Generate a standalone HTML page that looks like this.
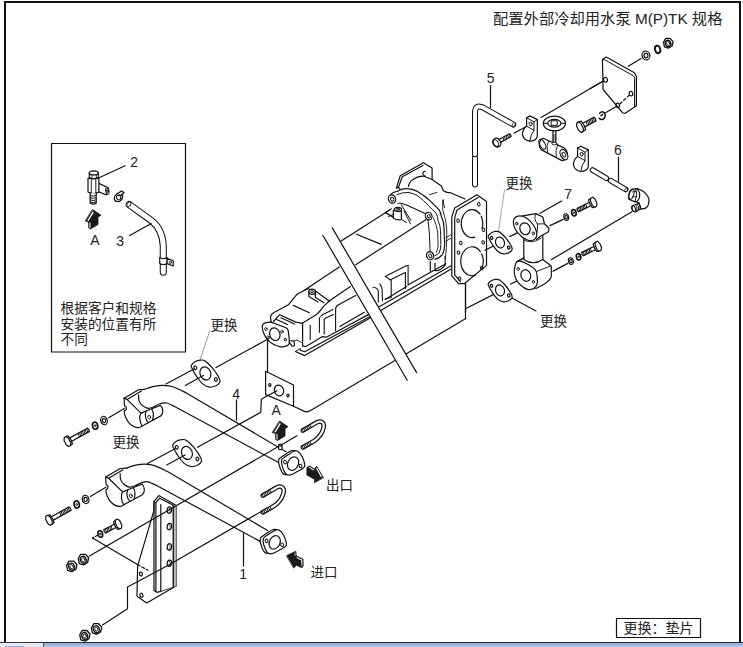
<!DOCTYPE html>
<html lang="zh"><head><meta charset="utf-8"><title>配置外部冷却用水泵 M(P)TK 规格</title>
<style>
html,body{margin:0;padding:0;background:#fff;}
body{width:743px;height:647px;overflow:hidden;position:relative;font-family:"Liberation Sans","Noto Sans CJK SC",sans-serif;}
svg{position:absolute;left:0;top:0;}
svg text{font-family:"Liberation Sans","Noto Sans CJK SC",sans-serif;fill:#222;stroke:none;}
.bar{position:absolute;left:0;top:642px;width:743px;height:5px;background:linear-gradient(#8aaad8,#b6cdeb);border-top:1px solid #2c313a;box-sizing:border-box;}
.bar i{position:absolute;left:0;top:0;width:43px;height:4px;background:#e6eaf2;border-right:1px solid #4a5468;}
.bar b{position:absolute;left:5px;top:3px;width:19px;height:2px;background:#93a9d6;}
</style></head><body>
<svg width="743" height="647" viewBox="0 0 743 647" fill="none" stroke="#111" stroke-width="1.2" stroke-linecap="round" stroke-linejoin="round">
<path d="M5,642 V2 H740 V642" stroke-width="2" stroke-linecap="butt" stroke-linejoin="miter"/>
<text x="493" y="23.5" font-size="15.3" >配置外部冷却用水泵 M(P)TK 规格</text>
<rect x="51.5" y="143.5" width="134" height="208.5" stroke-width="1.2"/>
<text x="60.5" y="313" font-size="13.7" >根据客户和规格</text>
<text x="60.5" y="328.5" font-size="13.7" >安装的位置有所</text>
<text x="60.5" y="344" font-size="13.7" >不同</text>
<rect x="616.5" y="618.5" width="84" height="19" stroke-width="1.2"/>
<text x="623.5" y="633" font-size="14" >更换：垫片</text>
<g transform="" >
<line x1="267.5" y1="340" x2="267.5" y2="371.3" stroke-width="1.2" />
<path d="M265.6,371.3 L293.5,385 L293.5,406.3 L265.6,394.6 Z" fill="#fff" stroke-width="1.2" />
<ellipse cx="279" cy="390.5" rx="4.6" ry="5.4" transform="rotate(-20 279 390.5)" fill="none" stroke-width="1.2"/>
<ellipse cx="269.8" cy="385" rx="1.1" ry="1.4" transform="rotate(0 269.8 385)" fill="none" stroke-width="1.2"/>
<ellipse cx="288" cy="395.6" rx="1.1" ry="1.4" transform="rotate(0 288 395.6)" fill="none" stroke-width="1.2"/>
<path d="M293.5,406.3 L305,411.6 Q308,412.3 311,410.3 L465.8,318.6" fill="none" stroke-width="1.2" />
<line x1="465.5" y1="283.8" x2="465.5" y2="318.6" stroke-width="1.2" />
<path d="M295.4,351.5 L304.7,355.6 L371,317.6" fill="none" stroke-width="1.2" />
<path d="M300.4,350.2 L304.7,351.8 L371,316" fill="none" stroke-width="1.2" />
<path d="M295.4,351.5 L300.4,348.5 L300.4,350.2" fill="none" stroke-width="0.9" />
<line x1="379.1" y1="306.8" x2="451.1" y2="265.8" stroke-width="1.2" />
<line x1="381.2" y1="310.2" x2="451.1" y2="269.1" stroke-width="1.2" />
<path d="M385.2,299.4 L406.7,286.6 M408.7,284.6 L445.8,263.7" fill="none" stroke-width="1.2" />
<path d="M271.1,322.1 C270.3,322.2 267.5,322.3 266.1,322.7 C264.8,323.1 263.6,323.6 263.0,324.3 C262.4,325.0 262.1,325.5 262.2,327.0 C262.3,328.5 262.8,331.1 263.7,333.2 C264.6,335.3 265.8,337.5 267.4,339.4 C269.0,341.2 271.2,343.1 273.5,344.3 C275.8,345.5 278.7,346.6 281.0,346.8 C283.3,347.0 285.7,346.2 287.1,345.6 C288.5,345.0 289.2,343.5 289.6,343.1" fill="#fff" stroke-width="1.2" />
<path d="M289,341.9 L292.1,346.2 Q294,346.5 294.6,345 L293.9,341.2 L290.9,340.6" fill="none" stroke-width="1.2" />
<path d="M271.1,322.1 L285.9,327.7 Q288.4,329 288.4,332 L289.6,343.1" fill="none" stroke-width="1.2" />
<ellipse cx="274.8" cy="334.2" rx="5.1" ry="6.4" transform="rotate(-20 274.8 334.2)" fill="none" stroke-width="1.2"/>
<ellipse cx="265.9" cy="329.1" rx="1.2" ry="1.5" transform="rotate(-20 265.9 329.1)" fill="none" stroke-width="0.9"/>
<ellipse cx="282" cy="331.7" rx="1.2" ry="1.5" transform="rotate(-20 282 331.7)" fill="none" stroke-width="0.9"/>
<ellipse cx="285.3" cy="339.6" rx="1.2" ry="1.5" transform="rotate(-20 285.3 339.6)" fill="none" stroke-width="0.9"/>
<ellipse cx="268" cy="337.5" rx="1.2" ry="1.5" transform="rotate(-20 268 337.5)" fill="none" stroke-width="0.9"/>
<path d="M271.1,322.1 L270.5,316.5 Q271.5,313.8 273.5,312.8 L288.4,304.8 L293.3,298.6 L297,294.3 L303.6,290.8 L339.3,267" fill="none" stroke-width="1.2" />
<path d="M273.5,321.5 L279.7,314.7 L295.8,322.1 L302.6,323.3" fill="none" stroke-width="1.2" />
<line x1="281" y1="317.8" x2="294.6" y2="324" stroke-width="1.2" />
<line x1="276.5" y1="319.5" x2="287.5" y2="324.5" stroke-width="1.2" />
<line x1="293.3" y1="305.4" x2="309.4" y2="312.8" stroke-width="1.2" />
<path d="M302.6,345.9 L302.6,323.1 L316.6,314.5 Q320.5,311 323.1,306.9 L329.2,301.1" fill="none" stroke-width="1.2" />
<path d="M293.9,341.2 L297,340 L302.6,343.1" fill="none" stroke-width="0.9" />
<ellipse cx="312.1" cy="291.7" rx="3.3" ry="2.6" transform="rotate(0 312.1 291.7)" fill="#fff" stroke-width="1.2"/>
<ellipse cx="312.1" cy="291.7" rx="1.4" ry="1.1" transform="rotate(0 312.1 291.7)" fill="none" stroke-width="0.9"/>
<path d="M308.8,292 V296.5 M315.4,292.5 V297.5 M303.6,290.8 L308.8,288.5 M315.4,291 L329.2,301.1 M315.4,297.5 L324,302.7 M308.8,296.5 L318,302" fill="none" stroke-width="1.2" />
<line x1="329.2" y1="301.1" x2="350.4" y2="286.6" stroke-width="1.2" />
<line x1="337.7" y1="305.3" x2="355.6" y2="295.5" stroke-width="1.2" />
<path d="M310.2,325.3 V339.4 M319.4,318.3 V332.3 M324.2,319.4 V334 M322.1,315 L332.9,309.6 M325.3,318.3 L333.4,314.5" fill="none" stroke-width="1.1" />
<path d="M319.4,318.3 Q319.5,316.3 322.1,315 M324.2,319.4 Q324.3,318.6 325.3,318.3" fill="none" stroke-width="1.0" />
<path d="M337.7,305.3 Q335.2,307 335.6,310.5 V330.7" fill="none" stroke-width="1.1" />
<path d="M302.6,345.9 L306,346.6 L322.1,336.7 L326.4,337.2 L335.6,332.3 L369.7,313.9" fill="none" stroke-width="1.2" />
<line x1="339.9" y1="326.4" x2="364.3" y2="312.3" stroke-width="1.2" />
</g>
<line x1="355.6" y1="264.8" x2="427" y2="218.9" stroke-width="1.2" />
<line x1="341.2" y1="241" x2="390.5" y2="209.6" stroke-width="1.2" />
<line x1="356.5" y1="234.2" x2="381.1" y2="244.4" stroke-width="1.2" />
<line x1="386.2" y1="213" x2="393" y2="217.2" stroke-width="1.2" />
<path d="M385.2,276.5 L404.7,266.4 Q407,265.2 408.7,265.8 M389.9,279.9 L405.4,272.5 M391.2,280.6 V296.7 M405.4,272.5 V288.6 M408.1,267.1 V285.3 M385.2,298.7 L391.2,297.5 M385.2,276.5 Q388.5,278 389.9,279.9" fill="none" stroke-width="1.1" />
<path d="M373.1,287.3 Q377.5,287.6 378.3,291 V302.1 M379.8,283.9 Q381.6,286 382,289 L382.5,300.8" fill="none" stroke-width="1.1" />
<path d="M430.3,261.5 V271.2 M435,263.1 V270.5 Q440,271.5 445.1,265.1 V256.3" fill="none" stroke-width="1.2" />
<path d="M396.4,188.1 L400.2,175.7 L423.4,162.7 L432.1,168.1 L432.1,179.5" fill="none" stroke-width="1.2" />
<path d="M398.5,187.1 L402.3,176.8 L422.9,165.4" fill="none" stroke-width="1.2" />
<path d="M396.4,188.1 L398.5,187.1 L400,189.5" fill="none" stroke-width="1.2" />
<path d="M425.2,171.2 Q422.6,171.4 422.8,174 Q423.4,175.6 425,175.2" fill="none" stroke-width="1.1" />
<path d="M408.3,186.5 Q409.5,181.5 413.1,179.5 Q418,176 424,176.2 L432.1,179.5 L441.3,186 L443.4,190.8 Q446.5,192.8 449.9,192.5 L465,199" fill="none" stroke-width="1.2" />
<path d="M429.4,194.6 L436.9,192.5 M443.4,200 Q443.2,204 444.5,207.6" fill="none" stroke-width="0.9" />
<path d="M442.6,200 Q441.5,210 445.4,219.5 Q447,227 446.8,234.8 Q446.8,248 445.4,258.5" fill="none" stroke-width="0.9" />
<path d="M446.1,237.6 L450.9,234.8 M446.1,241 L450.9,238.3" fill="none" stroke-width="0.9" />
<path d="M390.4,194.6 Q393,192 396.9,191.4 Q402,188.3 406.6,188.7 Q412.5,189 417.5,191.4 Q424.5,195.5 430.5,201.1 L439.1,209.8 Q441,212.5 441.3,216.3 Q444,222 444,227.8 L444.7,244.5 Q444.5,250 442.6,254.3 Q439.5,258.2 434.9,259.2" fill="none" stroke-width="1.2" />
<path d="M396.9,194.6 Q403,192 408.8,192.5 Q413.5,193.3 417.5,195.7 Q423.5,200 428.3,205.5 L435.9,213 Q438.2,216.5 438,220.6 Q440.4,225.5 440.5,230.6 L440.9,244.5 Q440.8,249.5 439.1,252.9 Q437.5,255 434.9,255.7" fill="none" stroke-width="1.0" />
<path d="M398,203.3 L401.2,203.3 Q406.5,204.5 412.1,207.6 L426.1,214.1" fill="none" stroke-width="1.1" />
<path d="M433.5,218.1 Q436.5,224.5 437.7,232 L438.1,245.9 Q437.8,249.8 436.3,252.2" fill="none" stroke-width="0.9" />
<path d="M428,220.2 Q429.8,233 430.1,252" fill="none" stroke-width="1.0" />
<ellipse cx="392" cy="199" rx="3.6" ry="4.2" transform="rotate(-20 392 199)" fill="#fff" stroke-width="1.2"/>
<ellipse cx="392.2" cy="199.2" rx="1.6" ry="2.0" transform="rotate(-20 392.2 199.2)" fill="none" stroke-width="1.0"/>
<ellipse cx="428.7" cy="216.1" rx="3.3" ry="3.9" transform="rotate(-20 428.7 216.1)" fill="#fff" stroke-width="1.2"/>
<ellipse cx="428.9" cy="216.3" rx="1.4" ry="1.8" transform="rotate(-20 428.9 216.3)" fill="none" stroke-width="1.0"/>
<ellipse cx="430.1" cy="255.7" rx="3.5" ry="4.1" transform="rotate(-20 430.1 255.7)" fill="#fff" stroke-width="1.2"/>
<ellipse cx="430.3" cy="255.9" rx="1.5" ry="1.9" transform="rotate(-20 430.3 255.9)" fill="none" stroke-width="1.0"/>
<ellipse cx="398" cy="209.4" rx="3.6" ry="2.0" transform="rotate(0 398 209.4)" fill="#fff" stroke-width="1.2"/>
<ellipse cx="398" cy="209.2" rx="1.5" ry="0.9" transform="rotate(0 398 209.2)" fill="none" stroke-width="1.0"/>
<path d="M393.3,210 V218.2 Q397.5,220.5 401.4,219.5 V210.5" fill="none" stroke-width="1.2" />
<path d="M401.2,204.6 L411,220.6 M404,211 L410.5,223.8 M401.4,219.5 L406.5,222.5 M393.3,214.5 L388.5,216.5 M385,212.5 L391.5,208.7 M385.5,213 L393.3,216.8" fill="none" stroke-width="1.0" />
<path d="M451.8,216.9 L454.7,208 L476.9,194.7 L486.5,201.4 L486.5,265.4 L464.3,283.7 L458.5,283.7 L451.8,275.8 Z" fill="#fff" stroke-width="1.2" />
<path d="M460.5,281.6 L454.7,274.8 L454.7,217.8 L457,209.9 L478.2,197.6" fill="none" stroke-width="1.2" />
<path d="M474.8,237.1 A10.8,14 0 1 1 480.0,214.2" fill="none" stroke-width="1.2" />
<path d="M481.2,216.2 A10.8,14 0 0 1 482.1,228.4" fill="none" stroke-width="1.2" />
<path d="M475.8,274.9 A11.2,14.5 0 1 1 480.3,251.6" fill="none" stroke-width="1.2" />
<path d="M481.7,254.1 A11.2,14.5 0 0 1 481.7,268.6" fill="none" stroke-width="1.2" />
<ellipse cx="478.8" cy="204.3" rx="1.3" ry="1.7" transform="rotate(-15 478.8 204.3)" fill="none" stroke-width="1.0"/>
<ellipse cx="458.1" cy="220.7" rx="1.3" ry="1.7" transform="rotate(-15 458.1 220.7)" fill="none" stroke-width="1.0"/>
<ellipse cx="483.4" cy="229.8" rx="1.3" ry="1.7" transform="rotate(-15 483.4 229.8)" fill="none" stroke-width="1.0"/>
<ellipse cx="460.8" cy="243" rx="1.3" ry="1.7" transform="rotate(-15 460.8 243)" fill="none" stroke-width="1.0"/>
<ellipse cx="483.1" cy="242.4" rx="1.3" ry="1.7" transform="rotate(-15 483.1 242.4)" fill="none" stroke-width="1.0"/>
<ellipse cx="458.5" cy="252.6" rx="1.3" ry="1.7" transform="rotate(-15 458.5 252.6)" fill="none" stroke-width="1.0"/>
<ellipse cx="481.7" cy="268.1" rx="1.3" ry="1.7" transform="rotate(-15 481.7 268.1)" fill="none" stroke-width="1.0"/>
<ellipse cx="459.5" cy="278.7" rx="1.3" ry="1.7" transform="rotate(-15 459.5 278.7)" fill="none" stroke-width="1.0"/>
<line x1="465.5" y1="283.8" x2="465.5" y2="312" stroke-width="1.2" />
<path d="M323.1,235.8 L332.3,227.9 L416.4,372.3 L407.2,380.2 Z" fill="#fff" stroke-width="0" stroke="none"/>
<line x1="322.8" y1="235.3" x2="407.2" y2="380.2" stroke-width="1.2" />
<line x1="332.3" y1="227.9" x2="416.6" y2="372.6" stroke-width="1.2" />
<line x1="216" y1="367.5" x2="268.5" y2="338.8" stroke-width="1.2" />
<path d="M191.3,365.3 C191.9,364.1 193.9,362.5 195.4,361.6 C196.9,360.7 198.6,360.2 200.2,360.1 C201.8,360.0 203.0,359.6 205.0,360.9 C207.0,362.2 210.4,365.7 212.3,367.8 C214.2,369.9 215.2,371.5 216.4,373.4 C217.6,375.3 219.0,377.6 219.6,379.1 C220.2,380.6 220.4,381.2 219.8,382.3 C219.2,383.4 218.0,384.7 216.3,385.5 C214.7,386.3 212.2,387.5 209.9,387.2 C207.6,386.9 204.9,385.8 202.6,383.9 C200.3,382.0 198.0,378.3 196.2,375.8 C194.5,373.2 192.9,370.3 192.1,368.6 C191.3,366.8 190.8,366.5 191.3,365.3 Z" fill="#fff" stroke-width="1.2" />
<ellipse cx="205.4" cy="373.4" rx="5.3" ry="6.7" transform="rotate(-20 205.4 373.4)" fill="none" stroke-width="1.2"/>
<ellipse cx="195.3" cy="367.79999999999995" rx="1.4" ry="1.8" transform="rotate(-20 195.3 367.79999999999995)" fill="none" stroke-width="1.2"/>
<ellipse cx="215.9" cy="379.5" rx="1.4" ry="1.8" transform="rotate(-20 215.9 379.5)" fill="none" stroke-width="1.2"/>
<path d="M172.8,444.8 C173.4,443.6 175.4,442.0 176.9,441.1 C178.4,440.2 180.1,439.7 181.7,439.6 C183.3,439.5 184.5,439.1 186.5,440.4 C188.5,441.7 191.9,445.2 193.8,447.3 C195.7,449.4 196.7,451.0 197.9,452.9 C199.1,454.8 200.5,457.1 201.1,458.6 C201.7,460.1 201.9,460.7 201.3,461.8 C200.8,462.9 199.5,464.2 197.8,465.0 C196.2,465.8 193.7,467.0 191.4,466.7 C189.1,466.4 186.4,465.3 184.1,463.4 C181.8,461.5 179.5,457.8 177.7,455.3 C176.0,452.7 174.4,449.8 173.6,448.1 C172.8,446.3 172.2,446.0 172.8,444.8 Z" fill="#fff" stroke-width="1.2" />
<ellipse cx="186.9" cy="452.9" rx="5.3" ry="6.7" transform="rotate(-20 186.9 452.9)" fill="none" stroke-width="1.2"/>
<ellipse cx="176.8" cy="447.29999999999995" rx="1.4" ry="1.8" transform="rotate(-20 176.8 447.29999999999995)" fill="none" stroke-width="1.2"/>
<ellipse cx="197.4" cy="459.0" rx="1.4" ry="1.8" transform="rotate(-20 197.4 459.0)" fill="none" stroke-width="1.2"/>
<g transform="translate(0 0)" >
<path d="M144.7,389.3 C146.3,388.8 151.2,387.0 154.3,386.4 C157.4,385.8 160.1,385.3 163.2,385.4 C166.3,385.5 169.1,385.6 172.9,386.8 C176.8,388.1 184.1,391.9 186.3,392.9 L286,451.7 L279,462.8 L175,406.7  C173.6,406.1 169.0,403.5 166.5,403.0 C164.0,402.5 162.2,403.1 160.0,403.8 C157.8,404.5 155.5,406.2 153.5,407.0 C151.5,407.8 149.8,408.6 147.9,408.3 C146.0,408.0 143.7,406.7 142.2,405.4 C140.7,404.1 139.6,402.4 139.0,400.6 C138.4,398.9 138.7,395.8 138.6,394.9 Z" fill="#fff" stroke-width="0" stroke="none"/>
<path d="M144.7,389.3 C146.3,388.8 151.2,387.0 154.3,386.4 C157.4,385.8 160.1,385.3 163.2,385.4 C166.3,385.5 169.1,385.6 172.9,386.8 C176.8,388.1 184.1,391.9 186.3,392.9 L286,451.7" fill="none" stroke-width="1.2" />
<path d="M138.6,394.9 C138.7,395.8 138.4,398.9 139.0,400.6 C139.6,402.4 140.7,404.1 142.2,405.4 C143.7,406.7 146.0,408.0 147.9,408.3 C149.8,408.6 151.5,407.8 153.5,407.0 C155.5,406.2 157.8,404.5 160.0,403.8 C162.2,403.1 164.0,402.5 166.5,403.0 C169.0,403.5 173.6,406.1 175.0,406.7 L279,462.8" fill="none" stroke-width="1.2" />
<path d="M124.1,398.2 C124.2,399.4 124.2,403.9 124.5,405.4 C124.8,406.9 125.8,406.3 126.1,407.0 C126.4,407.7 126.4,408.8 126.1,409.5 C125.8,410.2 124.4,410.2 124.3,411.5 C124.2,412.8 124.9,415.6 125.7,417.5 C126.5,419.4 127.9,421.6 129.3,423.2 C130.7,424.8 132.6,426.1 134.2,426.8 C135.8,427.5 137.7,427.7 139.0,427.6 C140.3,427.5 141.7,426.3 142.2,426.0 L160.8,415.9 C163.5,413 163.5,408.5 160.4,405.4" fill="none" stroke-width="1.2" />
<path d="M124.1,398.2 L138.6,389.7 L144.7,389.3" fill="none" stroke-width="1.2" />
<path d="M141.4,390.9 L127,399.4 L124.1,398.2" fill="none" stroke-width="1.2" />
<path d="M127,399.4 L141,413.1" fill="none" stroke-width="1.2" />
<path d="M141,413.1 L150,409.5 L160.4,405.4" fill="none" stroke-width="1.2" />
<path d="M141,413.1 C139,416 139.5,422 142.2,426" fill="none" stroke-width="1.2" />
<path d="M146,411.5 C144.5,415 145.5,420 148.3,422.6" fill="none" stroke-width="1.2" />
<path d="M152,409.5 C153.8,412.5 153.5,417 152.5,420.2" fill="none" stroke-width="1.2" />
<ellipse cx="149.2" cy="417.2" rx="1.4" ry="1.9" transform="rotate(-15 149.2 417.2)" fill="none" stroke-width="0.9"/>
</g>
<path d="M279.8,458.2 C280.9,457.3 283.3,455.6 285.2,454.4 C287.1,453.2 289.6,451.5 291.0,450.9 C292.4,450.3 292.9,450.5 293.7,450.6 C294.5,450.7 294.9,451.1 295.6,451.6 C296.3,452.2 297.1,453.1 297.7,453.9 C298.4,454.8 299.0,455.7 299.5,456.7 C300.0,457.8 300.4,459.1 300.8,460.2 C301.2,461.4 301.7,462.6 301.8,463.6 C301.9,464.6 302.0,465.4 301.6,466.2 C301.2,467.0 300.7,467.5 299.5,468.3 C298.3,469.1 296.0,470.2 294.2,471.2 C292.4,472.2 290.1,473.5 288.7,474.1 C287.3,474.7 286.6,474.7 285.7,474.6 C284.8,474.5 284.0,474.3 283.3,473.7 C282.6,473.1 282.0,472.1 281.5,471.2 C281.0,470.3 280.6,469.3 280.2,468.3 C279.8,467.3 279.5,466.2 279.2,465.2 C278.9,464.2 278.7,463.0 278.6,462.1 C278.5,461.2 278.6,460.5 278.8,459.8 C279.0,459.2 278.7,459.1 279.8,458.2 Z" fill="#fff" stroke-width="1.2" />
<path d="M282.7,458.6 C283.8,457.7 286.2,456.0 288.1,454.8 C290.0,453.6 292.5,451.9 293.9,451.3 C295.3,450.7 295.8,450.9 296.6,451.0 C297.4,451.1 297.8,451.4 298.5,452.0 C299.2,452.6 300.0,453.4 300.6,454.3 C301.2,455.2 301.9,456.1 302.4,457.1 C302.9,458.2 303.3,459.5 303.7,460.6 C304.1,461.8 304.6,463.0 304.7,464.0 C304.8,465.0 304.9,465.8 304.5,466.6 C304.1,467.4 303.6,467.9 302.4,468.7 C301.2,469.5 298.9,470.6 297.1,471.6 C295.3,472.6 293.0,473.9 291.6,474.5 C290.2,475.1 289.5,475.1 288.6,475.0 C287.7,474.9 286.9,474.7 286.2,474.1 C285.5,473.5 284.9,472.5 284.4,471.6 C283.9,470.7 283.5,469.7 283.1,468.7 C282.7,467.7 282.4,466.6 282.1,465.6 C281.8,464.6 281.6,463.4 281.5,462.5 C281.4,461.6 281.5,460.9 281.7,460.2 C281.9,459.6 281.6,459.5 282.7,458.6 Z" fill="#fff" stroke-width="1.2" />
<ellipse cx="293.1" cy="463.6" rx="5.3" ry="7.0" transform="rotate(25 293.1 463.6)" fill="none" stroke-width="1.2"/>
<ellipse cx="285.0" cy="462.1" rx="1.4" ry="1.8" transform="rotate(-20 285.0 462.1)" fill="none" stroke-width="1.0"/>
<ellipse cx="300.5" cy="466.0" rx="1.4" ry="1.8" transform="rotate(-20 300.5 466.0)" fill="none" stroke-width="1.0"/>
<g transform="translate(67.7 441.3) rotate(-29)">
<path d="M3,-1.95 H23.5 M3,1.95 H23.5" />
<path d="M23.5,-1.95 Q25.0,0 23.5,1.95" />
<path d="M22.7,-1.95 L21.9,1.95 M21.1,-1.95 L20.3,1.95 M19.5,-1.95 L18.7,1.95 M17.9,-1.95 L17.1,1.95 M16.3,-1.95 L15.5,1.95 M14.7,-1.95 L13.9,1.95 M13.1,-1.95 L12.3,1.95 " stroke-width="0.9"/>
<path d="M0,-5.0 L3,-4.5 L3.6,0 L3,4.5 L0,5.0 Z" fill="#fff"/>
<path d="M-1.2,-5.0 L1.0,-5.0 L2.2,-2.25 L2.0,2.5 L0.4,5.0 L-1.8,5.0 L-3.0,2.25 L-2.8,-2.5 Z" fill="#fff"/>
</g>
<ellipse cx="95.1" cy="425.7" rx="2.6" ry="3.6" transform="rotate(-15 95.1 425.7)" fill="#fff" stroke-width="1.6"/>
<ellipse cx="95.1" cy="425.7" rx="0.78" ry="1.08" transform="rotate(-15 95.1 425.7)" fill="none" stroke-width="0.8"/>
<ellipse cx="104" cy="420.6" rx="3.3" ry="4.2" transform="rotate(-15 104 420.6)" fill="#fff" stroke-width="1.2"/>
<ellipse cx="104" cy="420.6" rx="1.65" ry="2.1" transform="rotate(-15 104 420.6)" fill="none" stroke-width="1.2"/>
<line x1="108.7" y1="417.7" x2="124.3" y2="408.5" stroke-width="1.2" />
<g transform="translate(-18.4 78.8)" >
<path d="M144.7,389.3 C146.3,388.8 151.2,387.0 154.3,386.4 C157.4,385.8 160.1,385.3 163.2,385.4 C166.3,385.5 169.1,385.6 172.9,386.8 C176.8,388.1 184.1,391.9 186.3,392.9 L286,451.7 L279,462.8 L175,406.7  C173.6,406.1 169.0,403.5 166.5,403.0 C164.0,402.5 162.2,403.1 160.0,403.8 C157.8,404.5 155.5,406.2 153.5,407.0 C151.5,407.8 149.8,408.6 147.9,408.3 C146.0,408.0 143.7,406.7 142.2,405.4 C140.7,404.1 139.6,402.4 139.0,400.6 C138.4,398.9 138.7,395.8 138.6,394.9 Z" fill="#fff" stroke-width="0" stroke="none"/>
<path d="M144.7,389.3 C146.3,388.8 151.2,387.0 154.3,386.4 C157.4,385.8 160.1,385.3 163.2,385.4 C166.3,385.5 169.1,385.6 172.9,386.8 C176.8,388.1 184.1,391.9 186.3,392.9 L286,451.7" fill="none" stroke-width="1.2" />
<path d="M138.6,394.9 C138.7,395.8 138.4,398.9 139.0,400.6 C139.6,402.4 140.7,404.1 142.2,405.4 C143.7,406.7 146.0,408.0 147.9,408.3 C149.8,408.6 151.5,407.8 153.5,407.0 C155.5,406.2 157.8,404.5 160.0,403.8 C162.2,403.1 164.0,402.5 166.5,403.0 C169.0,403.5 173.6,406.1 175.0,406.7 L279,462.8" fill="none" stroke-width="1.2" />
<path d="M124.1,398.2 C124.2,399.4 124.2,403.9 124.5,405.4 C124.8,406.9 125.8,406.3 126.1,407.0 C126.4,407.7 126.4,408.8 126.1,409.5 C125.8,410.2 124.4,410.2 124.3,411.5 C124.2,412.8 124.9,415.6 125.7,417.5 C126.5,419.4 127.9,421.6 129.3,423.2 C130.7,424.8 132.6,426.1 134.2,426.8 C135.8,427.5 137.7,427.7 139.0,427.6 C140.3,427.5 141.7,426.3 142.2,426.0 L160.8,415.9 C163.5,413 163.5,408.5 160.4,405.4" fill="none" stroke-width="1.2" />
<path d="M124.1,398.2 L138.6,389.7 L144.7,389.3" fill="none" stroke-width="1.2" />
<path d="M141.4,390.9 L127,399.4 L124.1,398.2" fill="none" stroke-width="1.2" />
<path d="M127,399.4 L141,413.1" fill="none" stroke-width="1.2" />
<path d="M141,413.1 L150,409.5 L160.4,405.4" fill="none" stroke-width="1.2" />
<path d="M141,413.1 C139,416 139.5,422 142.2,426" fill="none" stroke-width="1.2" />
<path d="M146,411.5 C144.5,415 145.5,420 148.3,422.6" fill="none" stroke-width="1.2" />
<path d="M152,409.5 C153.8,412.5 153.5,417 152.5,420.2" fill="none" stroke-width="1.2" />
<ellipse cx="149.2" cy="417.2" rx="1.4" ry="1.9" transform="rotate(-15 149.2 417.2)" fill="none" stroke-width="0.9"/>
</g>
<path d="M261.4,537.0 C262.5,536.1 264.9,534.4 266.8,533.2 C268.7,532.0 271.2,530.3 272.6,529.7 C274.0,529.1 274.5,529.3 275.3,529.4 C276.1,529.5 276.5,529.8 277.2,530.4 C277.9,531.0 278.7,531.9 279.3,532.7 C280.0,533.6 280.6,534.5 281.1,535.5 C281.6,536.5 282.0,537.9 282.4,539.0 C282.8,540.1 283.3,541.4 283.4,542.4 C283.5,543.4 283.6,544.2 283.2,545.0 C282.8,545.8 282.3,546.3 281.1,547.1 C279.9,547.9 277.6,549.0 275.8,550.0 C274.0,551.0 271.7,552.3 270.3,552.9 C268.9,553.5 268.2,553.5 267.3,553.4 C266.4,553.3 265.6,553.1 264.9,552.5 C264.2,551.9 263.6,550.9 263.1,550.0 C262.6,549.1 262.2,548.1 261.8,547.1 C261.4,546.1 261.1,545.0 260.8,544.0 C260.5,543.0 260.3,541.8 260.2,540.9 C260.1,540.0 260.2,539.2 260.4,538.6 C260.6,538.0 260.3,537.9 261.4,537.0 Z" fill="#fff" stroke-width="1.2" />
<path d="M264.3,537.4 C265.4,536.5 267.8,534.8 269.7,533.6 C271.6,532.4 274.1,530.7 275.5,530.1 C276.9,529.5 277.4,529.7 278.2,529.8 C279.0,529.9 279.4,530.2 280.1,530.8 C280.8,531.3 281.6,532.2 282.2,533.1 C282.9,534.0 283.5,534.9 284.0,535.9 C284.5,536.9 284.9,538.2 285.3,539.4 C285.7,540.5 286.2,541.8 286.3,542.8 C286.4,543.8 286.5,544.6 286.1,545.4 C285.7,546.2 285.2,546.7 284.0,547.5 C282.8,548.3 280.5,549.4 278.7,550.4 C276.9,551.4 274.6,552.7 273.2,553.3 C271.8,553.9 271.1,553.9 270.2,553.8 C269.3,553.7 268.5,553.5 267.8,552.9 C267.1,552.3 266.5,551.3 266.0,550.4 C265.5,549.5 265.1,548.5 264.7,547.5 C264.3,546.5 264.0,545.4 263.7,544.4 C263.4,543.4 263.2,542.2 263.1,541.3 C263.0,540.4 263.1,539.6 263.3,539.0 C263.5,538.4 263.2,538.3 264.3,537.4 Z" fill="#fff" stroke-width="1.2" />
<ellipse cx="274.70000000000005" cy="542.4" rx="5.3" ry="7.0" transform="rotate(25 274.70000000000005 542.4)" fill="none" stroke-width="1.2"/>
<ellipse cx="266.6" cy="540.9" rx="1.4" ry="1.8" transform="rotate(-20 266.6 540.9)" fill="none" stroke-width="1.0"/>
<ellipse cx="282.1" cy="544.8" rx="1.4" ry="1.8" transform="rotate(-20 282.1 544.8)" fill="none" stroke-width="1.0"/>
<g transform="translate(49.300000000000004 520.1) rotate(-29)">
<path d="M3,-1.95 H23.5 M3,1.95 H23.5" />
<path d="M23.5,-1.95 Q25.0,0 23.5,1.95" />
<path d="M22.7,-1.95 L21.9,1.95 M21.1,-1.95 L20.3,1.95 M19.5,-1.95 L18.7,1.95 M17.9,-1.95 L17.1,1.95 M16.3,-1.95 L15.5,1.95 M14.7,-1.95 L13.9,1.95 M13.1,-1.95 L12.3,1.95 " stroke-width="0.9"/>
<path d="M0,-5.0 L3,-4.5 L3.6,0 L3,4.5 L0,5.0 Z" fill="#fff"/>
<path d="M-1.2,-5.0 L1.0,-5.0 L2.2,-2.25 L2.0,2.5 L0.4,5.0 L-1.8,5.0 L-3.0,2.25 L-2.8,-2.5 Z" fill="#fff"/>
</g>
<ellipse cx="76.69999999999999" cy="504.5" rx="2.6" ry="3.6" transform="rotate(-15 76.69999999999999 504.5)" fill="#fff" stroke-width="1.6"/>
<ellipse cx="76.69999999999999" cy="504.5" rx="0.78" ry="1.08" transform="rotate(-15 76.69999999999999 504.5)" fill="none" stroke-width="0.8"/>
<ellipse cx="85.6" cy="499.40000000000003" rx="3.3" ry="4.2" transform="rotate(-15 85.6 499.40000000000003)" fill="#fff" stroke-width="1.2"/>
<ellipse cx="85.6" cy="499.40000000000003" rx="1.65" ry="2.1" transform="rotate(-15 85.6 499.40000000000003)" fill="none" stroke-width="1.2"/>
<line x1="90.30000000000001" y1="496.5" x2="105.9" y2="487.3" stroke-width="1.2" />
<path d="M154,510.1 L137.6,566.2 L137,596.2 L146.7,603 L176.4,585.8 L176.4,505.5 L158.8,495.6 L154,501.4 Z" fill="#fff" stroke-width="1.2" />
<path d="M173.3,505 L176.6,506 L176.6,585.6 L173.3,587.6 Z" fill="#b5b5b5" stroke-width="0.5" stroke="#777"/>
<path d="M154,501.4 L154,590.4 L156.9,592.3 L160.8,591.4 L160.8,504.5" fill="none" stroke-width="1.2" />
<line x1="155.9" y1="502.5" x2="155.9" y2="591" stroke-width="1.2" />
<path d="M155.9,502.5 L159.6,498.2 L173.3,505.3" fill="none" stroke-width="1.2" />
<line x1="173.3" y1="505.3" x2="173.3" y2="587.3" stroke-width="1.2" />
<line x1="160.8" y1="591.4" x2="173.3" y2="587.3" stroke-width="0.8" />
<ellipse cx="169.4" cy="510.1" rx="2.2" ry="3.2" transform="rotate(10 169.4 510.1)" fill="#fff" stroke-width="1.2"/>
<path d="M168.6,507.5 C170.6,508.5 170.8,511.6 169.4,513.1" fill="none" stroke-width="0.8" />
<ellipse cx="169.4" cy="526.6" rx="2.2" ry="3.2" transform="rotate(10 169.4 526.6)" fill="#fff" stroke-width="1.2"/>
<path d="M168.6,524.0 C170.6,525.0 170.8,528.1 169.4,529.6" fill="none" stroke-width="0.8" />
<ellipse cx="169.4" cy="546.9" rx="2.2" ry="3.2" transform="rotate(10 169.4 546.9)" fill="#fff" stroke-width="1.2"/>
<path d="M168.6,544.3 C170.6,545.3 170.8,548.4 169.4,549.9" fill="none" stroke-width="0.8" />
<ellipse cx="169.4" cy="563.3" rx="2.2" ry="3.2" transform="rotate(10 169.4 563.3)" fill="#fff" stroke-width="1.2"/>
<path d="M168.6,560.6999999999999 C170.6,561.6999999999999 170.8,564.8 169.4,566.3" fill="none" stroke-width="0.8" />
<ellipse cx="140.9" cy="574" rx="1.5" ry="2" transform="rotate(-20 140.9 574)" fill="none" stroke-width="1.2"/>
<ellipse cx="141.4" cy="595.2" rx="1.5" ry="2" transform="rotate(-20 141.4 595.2)" fill="none" stroke-width="1.2"/>
<line x1="166" y1="384" x2="194" y2="369" stroke-width="1.2" />
<line x1="185.3" y1="385.5" x2="203.4" y2="375.4" stroke-width="1.2" />
<line x1="147.5" y1="463.5" x2="175.5" y2="448.5" stroke-width="1.2" />
<line x1="166.8" y1="465" x2="185" y2="455" stroke-width="1.2" />
<path d="M197.5,447.3 L260.8,412.3 L261.3,399.3 L266.5,396.3 L277,390.8" fill="none" stroke-width="1.2" />
<line x1="89.5" y1="556" x2="297" y2="435.7" stroke-width="1.2" />
<path d="M102.5,625 L127.5,608.8 L127.5,587 L168.8,565 L262,511" fill="none" stroke-width="1.2" />
<line x1="98" y1="535" x2="92.5" y2="538" stroke-width="1.2" stroke-dasharray="3 2"/>
<line x1="92.5" y1="538" x2="137.5" y2="564.5" stroke-width="1.2" />
<line x1="137.5" y1="564.5" x2="148" y2="570.3" stroke-width="1.2" stroke-dasharray="3 2"/>
<path d="M278.6,445.2 V449 Q280.3,450.3 282,449 V445.2" fill="#fff"/>
<ellipse cx="280.3" cy="445.2" rx="1.7" ry="1.0" transform="rotate(0 280.3 445.2)" fill="#fff" stroke-width="1.2"/>
<g transform="translate(0.0 0.0)" >
<path d="M302.8,430.6 L316.5,422.6 C321.5,419.8 325.2,423 323.2,429 C321.5,434.5 318,438.5 314,441 L302.8,447.4" fill="none" stroke-width="4.6" stroke-linecap="round"/>
<path d="M302.8,430.6 L316.5,422.6 C321.5,419.8 325.2,423 323.2,429 C321.5,434.5 318,438.5 314,441 L302.8,447.4" fill="none" stroke-width="2.2" stroke="#fff" stroke-linecap="round"/>
<path d="M301.9,429.0 L303.7,432.2 M303.5,428.1 L305.2,431.3 M305.0,427.2 L306.8,430.4 M306.6,426.3 L308.3,429.5 M308.1,425.4 L309.9,428.6 M309.7,424.5 L311.4,427.7 " fill="none" stroke-width="1.0" />
<path d="M301.9,445.8 L303.7,449.0 M303.5,444.9 L305.2,448.1 M305.0,444.0 L306.8,447.2 M306.6,443.1 L308.3,446.3 M308.1,442.2 L309.9,445.4 M309.7,441.3 L311.4,444.5 " fill="none" stroke-width="1.0" />
</g>
<g transform="translate(-40.0 65.0)" >
<path d="M302.8,430.6 L316.5,422.6 C321.5,419.8 325.2,423 323.2,429 C321.5,434.5 318,438.5 314,441 L302.8,447.4" fill="none" stroke-width="4.6" stroke-linecap="round"/>
<path d="M302.8,430.6 L316.5,422.6 C321.5,419.8 325.2,423 323.2,429 C321.5,434.5 318,438.5 314,441 L302.8,447.4" fill="none" stroke-width="2.2" stroke="#fff" stroke-linecap="round"/>
<path d="M301.9,429.0 L303.7,432.2 M303.5,428.1 L305.2,431.3 M305.0,427.2 L306.8,430.4 M306.6,426.3 L308.3,429.5 M308.1,425.4 L309.9,428.6 M309.7,424.5 L311.4,427.7 " fill="none" stroke-width="1.0" />
<path d="M301.9,445.8 L303.7,449.0 M303.5,444.9 L305.2,448.1 M305.0,444.0 L306.8,447.2 M306.6,443.1 L308.3,446.3 M308.1,442.2 L309.9,445.4 M309.7,441.3 L311.4,444.5 " fill="none" stroke-width="1.0" />
</g>
<g transform="translate(0 0)" >
<path d="M279.8,421.2 L288,426.7 L285,428.6 L285,436 L277.6,440.4 L275.7,439.4 L275.7,433.5 L272.6,432.6 Z" fill="#1a1a1a" stroke-width="0.8" />
<path d="M279.7,423 L274.3,431.9 L275.6,432.4 L280.9,423.8 Z" fill="#fff" stroke-width="0" stroke="none"/>
<path d="M276.5,433.8 L276.5,439.2 L277.5,439.7 L277.5,434.2 Z" fill="#fff" stroke-width="0" stroke="none"/>
</g>
<g transform="translate(-187 -211.5)" >
<path d="M279.8,421.2 L288,426.7 L285,428.6 L285,436 L277.6,440.4 L275.7,439.4 L275.7,433.5 L272.6,432.6 Z" fill="#1a1a1a" stroke-width="0.8" />
<path d="M279.7,423 L274.3,431.9 L275.6,432.4 L280.9,423.8 Z" fill="#fff" stroke-width="0" stroke="none"/>
<path d="M276.5,433.8 L276.5,439.2 L277.5,439.7 L277.5,434.2 Z" fill="#fff" stroke-width="0" stroke="none"/>
</g>
<path d="M323.3,477.4 L316.6,466.3 L314.6,469 L309.4,466 L306.9,467.7 L306.9,475 L314.9,479.6 L314.4,482.4 Z" fill="#1a1a1a" stroke-width="0.8" />
<path d="M317,467.8 L322,476.6 L321,477.2 L316.2,468.8 Z" fill="#fff" stroke-width="0" stroke="none"/>
<path d="M309.5,467 L314.2,469.8 L313.8,470.6 L308.7,467.7 Z" fill="#fff" stroke-width="0" stroke="none"/>
<path d="M286.8,555.6 L295.8,551.3 L296.3,556 L302.9,558.9 L303.3,565.4 L301.9,567.8 L296.5,565.2 L293.9,567.8 Z" fill="#1a1a1a" stroke-width="0.8" />
<path d="M296.8,556.9 L302.2,559.4 L302.5,565 L301.6,566.3 L301.2,560.2 L296.6,558 Z" fill="#fff" stroke-width="0" stroke="none"/>
<path d="M294.6,552.6 L295.2,552.3 L295.5,556 L294.8,556 Z" fill="#fff" stroke-width="0" stroke="none"/>
<text x="210.5" y="329.5" font-size="13.5" >更换</text>
<line x1="209.8" y1="331" x2="200" y2="360" stroke-width="0.6" stroke="#555"/>
<text x="112.5" y="446.5" font-size="13.5" >更换</text>
<text x="326" y="489.5" font-size="13.5" >出口</text>
<text x="310.5" y="576.5" font-size="13.5" >进口</text>
<text x="232.2" y="399" font-size="14" >4</text>
<line x1="236.5" y1="400" x2="236.5" y2="420.3" stroke-width="1.2" />
<text x="271.5" y="414.7" font-size="14" >A</text>
<text x="239.3" y="578.7" font-size="14" >1</text>
<line x1="243.5" y1="533.5" x2="243.5" y2="566" stroke-width="1.2" />
<path d="M68.985,561.1 L73.75500000000001,561.1 L76.935,564.545 L75.875,569.3149999999999 L71.9,571.6999999999999 L67.66000000000001,570.375 L66.60000000000001,565.34 Z" fill="#fff" stroke-width="1.3" />
<ellipse cx="71.60000000000001" cy="566.6" rx="2.915" ry="3.498" transform="rotate(-20 71.60000000000001 566.6)" fill="none" stroke-width="1.3"/>
<ellipse cx="71.60000000000001" cy="566.6" rx="1.5899999999999999" ry="2.12" transform="rotate(-20 71.60000000000001 566.6)" fill="none" stroke-width="0.8"/>
<path d="M80.68499999999999,554.3000000000001 L85.455,554.3000000000001 L88.63499999999999,557.745 L87.57499999999999,562.515 L83.6,564.9 L79.36,563.575 L78.3,558.5400000000001 Z" fill="#fff" stroke-width="1.3" />
<ellipse cx="83.3" cy="559.8000000000001" rx="2.915" ry="3.498" transform="rotate(-20 83.3 559.8000000000001)" fill="none" stroke-width="1.3"/>
<ellipse cx="83.3" cy="559.8000000000001" rx="1.5899999999999999" ry="2.12" transform="rotate(-20 83.3 559.8000000000001)" fill="none" stroke-width="0.8"/>
<path d="M82.085,630.5 L86.855,630.5 L90.035,633.9449999999999 L88.975,638.7149999999999 L85.0,641.0999999999999 L80.76,639.775 L79.7,634.74 Z" fill="#fff" stroke-width="1.3" />
<ellipse cx="84.7" cy="636.0" rx="2.915" ry="3.498" transform="rotate(-20 84.7 636.0)" fill="none" stroke-width="1.3"/>
<ellipse cx="84.7" cy="636.0" rx="1.5899999999999999" ry="2.12" transform="rotate(-20 84.7 636.0)" fill="none" stroke-width="0.8"/>
<path d="M93.785,623.7 L98.555,623.7 L101.735,627.145 L100.675,631.915 L96.7,634.3 L92.46000000000001,632.975 L91.4,627.94 Z" fill="#fff" stroke-width="1.3" />
<ellipse cx="96.4" cy="629.2" rx="2.915" ry="3.498" transform="rotate(-20 96.4 629.2)" fill="none" stroke-width="1.3"/>
<ellipse cx="96.4" cy="629.2" rx="1.5899999999999999" ry="2.12" transform="rotate(-20 96.4 629.2)" fill="none" stroke-width="0.8"/>
<g transform="translate(118.2 524.2) rotate(152)">
<path d="M3,-1.9 H15 M3,1.9 H15" />
<path d="M15,-1.9 Q16.5,0 15,1.9" />
<path d="M14.2,-1.9 L13.4,1.9 M12.6,-1.9 L11.8,1.9 M11.0,-1.9 L10.2,1.9 M9.4,-1.9 L8.6,1.9 M7.8,-1.9 L7.0,1.9 " stroke-width="0.9"/>
<path d="M0,-4.9 L3,-4.41 L3.6,0 L3,4.41 L0,4.9 Z" fill="#fff"/>
<path d="M-1.2,-4.9 L1.0,-4.9 L2.2,-2.205 L2.0,2.45 L0.4,4.9 L-1.8,4.9 L-3.0,2.205 L-2.8,-2.45 Z" fill="#fff"/>
</g>
<ellipse cx="100.3" cy="534" rx="2.3" ry="3.3" transform="rotate(-15 100.3 534)" fill="#fff" stroke-width="1.6"/>
<ellipse cx="100.3" cy="534" rx="0.69" ry="0.9899999999999999" transform="rotate(-15 100.3 534)" fill="none" stroke-width="0.8"/>
<line x1="485" y1="250.2" x2="496.9" y2="244.2" stroke-width="1.2" />
<line x1="465.5" y1="308.8" x2="498.6" y2="291.9" stroke-width="1.2" />
<line x1="509.7" y1="236.6" x2="521.6" y2="230.6" stroke-width="1.2" />
<line x1="510.5" y1="284.2" x2="523.3" y2="277.4" stroke-width="1.2" />
<line x1="504.5" y1="190" x2="498.6" y2="230.6" stroke-width="0.6" stroke="#666"/>
<line x1="511.4" y1="297.8" x2="536" y2="311" stroke-width="1.2" />
<g transform="translate(500 242.5) scale(0.83)" >
<path d="M-14.1,-8.1 C-13.5,-9.3 -11.5,-10.9 -10.0,-11.8 C-8.5,-12.7 -6.8,-13.2 -5.2,-13.3 C-3.6,-13.4 -2.4,-13.8 -0.4,-12.5 C1.6,-11.2 5.0,-7.7 6.9,-5.6 C8.8,-3.5 9.8,-1.9 11.0,0.0 C12.2,1.9 13.6,4.2 14.2,5.7 C14.8,7.2 14.9,7.8 14.4,8.9 C13.9,10.0 12.6,11.3 10.9,12.1 C9.2,12.9 6.8,14.1 4.5,13.8 C2.2,13.5 -0.5,12.4 -2.8,10.5 C-5.1,8.6 -7.4,5.0 -9.2,2.4 C-10.9,-0.2 -12.5,-3.0 -13.3,-4.8 C-14.1,-6.5 -14.7,-6.9 -14.1,-8.1 Z" fill="#fff" stroke-width="1.4457831325301205" />
<ellipse cx="0" cy="0" rx="5.3" ry="6.7" transform="rotate(-20 0 0)" fill="none" stroke-width="1.4457831325301205"/>
<ellipse cx="-10.1" cy="-5.6" rx="1.4" ry="1.8" transform="rotate(-20 -10.1 -5.6)" fill="none" stroke-width="1.4457831325301205"/>
<ellipse cx="10.5" cy="6.1" rx="1.4" ry="1.8" transform="rotate(-20 10.5 6.1)" fill="none" stroke-width="1.4457831325301205"/>
</g>
<g transform="translate(500 290.4) scale(0.83)" >
<path d="M-14.1,-8.1 C-13.5,-9.3 -11.5,-10.9 -10.0,-11.8 C-8.5,-12.7 -6.8,-13.2 -5.2,-13.3 C-3.6,-13.4 -2.4,-13.8 -0.4,-12.5 C1.6,-11.2 5.0,-7.7 6.9,-5.6 C8.8,-3.5 9.8,-1.9 11.0,0.0 C12.2,1.9 13.6,4.2 14.2,5.7 C14.8,7.2 14.9,7.8 14.4,8.9 C13.9,10.0 12.6,11.3 10.9,12.1 C9.2,12.9 6.8,14.1 4.5,13.8 C2.2,13.5 -0.5,12.4 -2.8,10.5 C-5.1,8.6 -7.4,5.0 -9.2,2.4 C-10.9,-0.2 -12.5,-3.0 -13.3,-4.8 C-14.1,-6.5 -14.7,-6.9 -14.1,-8.1 Z" fill="#fff" stroke-width="1.4457831325301205" />
<ellipse cx="0" cy="0" rx="5.3" ry="6.7" transform="rotate(-20 0 0)" fill="none" stroke-width="1.4457831325301205"/>
<ellipse cx="-10.1" cy="-5.6" rx="1.4" ry="1.8" transform="rotate(-20 -10.1 -5.6)" fill="none" stroke-width="1.4457831325301205"/>
<ellipse cx="10.5" cy="6.1" rx="1.4" ry="1.8" transform="rotate(-20 10.5 6.1)" fill="none" stroke-width="1.4457831325301205"/>
</g>
<text x="505.5" y="188" font-size="13.5" >更换</text>
<text x="540" y="326" font-size="13.5" >更换</text>
<path d="M523.8,238 V259.5 Q533,266 542.8,259.5 V234 Z" fill="#fff" stroke-width="1.2" />
<path d="M523.8,240 Q532,244.5 541,238.3" fill="none" stroke-width="0.9" />
<path d="M516.5,262.1 L524.1,257.8 M542.8,259.5 L550.5,265.5 Q551.6,266.5 551.3,268 V276.6 Q550,282 536,288.5 L528,289.2" fill="none" stroke-width="1.2" />
<path d="M514.6,268.0 C515.0,266.2 515.4,263.2 516.5,262.1 C517.6,261.0 519.1,260.9 521.0,261.3 C522.9,261.7 525.6,263.1 528.0,264.5 C530.4,265.9 534.0,267.9 535.5,270.0 C537.0,272.1 537.0,274.6 537.2,277.0 C537.5,279.4 537.6,282.6 537.0,284.5 C536.4,286.4 535.1,287.7 533.5,288.5 C531.9,289.3 529.6,289.8 527.5,289.3 C525.4,288.8 522.9,287.2 521.0,285.5 C519.1,283.8 517.1,281.1 516.0,279.0 C514.9,276.9 514.5,274.8 514.3,273.0 C514.1,271.2 514.2,269.8 514.6,268.0 Z" fill="#fff" stroke-width="1.2" />
<path d="M516.5,262.1 L524.1,257.8" fill="none" stroke-width="1.2" />
<path d="M536.5,271.5 L551,265.8" fill="none" stroke-width="0.9" />
<ellipse cx="525.8" cy="275.5" rx="4.8" ry="5.9" transform="rotate(-20 525.8 275.5)" fill="none" stroke-width="1.2"/>
<ellipse cx="518.2" cy="268.9" rx="1.1" ry="1.5" transform="rotate(-20 518.2 268.9)" fill="none" stroke-width="0.9"/>
<ellipse cx="533.5" cy="281.9" rx="1.1" ry="1.5" transform="rotate(-20 533.5 281.9)" fill="none" stroke-width="0.9"/>
<path d="M521.6,216.2 L536,213.6 L542.8,217 L544.5,223.8 L548.8,228 Q549,231 548,232.3 L541.1,235.7 L536.5,239.5" fill="#fff" stroke-width="1.2" />
<path d="M536,213.6 Q533,219 537.5,224 L544.5,223.8 M537.5,224 Q538,230 536.5,234" fill="none" stroke-width="0.9" />
<path d="M513.3,222.0 C513.2,220.0 514.1,218.5 515.2,217.5 C516.3,216.5 518.1,215.7 520.0,215.8 C521.9,215.9 524.3,216.6 526.5,218.0 C528.7,219.4 531.4,222.3 533.0,224.5 C534.6,226.7 535.7,229.0 536.3,231.0 C536.9,233.0 537.0,235.0 536.5,236.5 C536.0,238.0 534.9,239.4 533.5,240.0 C532.1,240.6 530.0,240.9 528.0,240.3 C526.0,239.7 523.6,238.3 521.5,236.5 C519.4,234.7 516.9,231.9 515.5,229.5 C514.1,227.1 513.3,224.0 513.3,222.0 Z" fill="#fff" stroke-width="1.2" />
<ellipse cx="525" cy="228.7" rx="5.1" ry="6.0" transform="rotate(-20 525 228.7)" fill="none" stroke-width="1.2"/>
<ellipse cx="516.7" cy="223.6" rx="1.1" ry="1.5" transform="rotate(-20 516.7 223.6)" fill="none" stroke-width="0.9"/>
<ellipse cx="533.3" cy="233.4" rx="1.1" ry="1.5" transform="rotate(-20 533.3 233.4)" fill="none" stroke-width="0.9"/>
<text x="564.3" y="198.5" font-size="14" >7</text>
<line x1="561.6" y1="200.9" x2="540" y2="213.3" stroke-width="1.2" />
<line x1="550" y1="225.6" x2="563.1" y2="219.4" stroke-width="1.2" />
<ellipse cx="566.2" cy="217.1" rx="2.4" ry="3.4" transform="rotate(-15 566.2 217.1)" fill="#fff" stroke-width="1.1"/>
<ellipse cx="566.2" cy="217.1" rx="1.2" ry="1.7" transform="rotate(-15 566.2 217.1)" fill="none" stroke-width="1.1"/>
<ellipse cx="573.9" cy="212.8" rx="2.2" ry="3.2" transform="rotate(-15 573.9 212.8)" fill="#fff" stroke-width="1.6"/>
<ellipse cx="573.9" cy="212.8" rx="0.66" ry="0.96" transform="rotate(-15 573.9 212.8)" fill="none" stroke-width="0.8"/>
<g transform="translate(593.3 202.4) rotate(153.5)">
<path d="M3.2,-1.8 H17 M3.2,1.8 H17" />
<path d="M17,-1.8 Q18.5,0 17,1.8" />
<path d="M16.2,-1.8 L15.4,1.8 M14.6,-1.8 L13.8,1.8 M13.0,-1.8 L12.2,1.8 M11.4,-1.8 L10.6,1.8 M9.8,-1.8 L9.0,1.8 M8.2,-1.8 L7.4,1.8 " stroke-width="0.9"/>
<path d="M0,-4.9 L3.2,-4.41 L3.8000000000000003,0 L3.2,4.41 L0,4.9 Z" fill="#fff"/>
<path d="M-1.2,-4.9 L1.0,-4.9 L2.2,-2.205 L2.0,2.45 L0.4,4.9 L-1.8,4.9 L-3.0,2.205 L-2.8,-2.45 Z" fill="#fff"/>
</g>
<line x1="553.1" y1="271.1" x2="567.8" y2="263.4" stroke-width="1.2" />
<ellipse cx="570.9" cy="261.1" rx="2.4" ry="3.4" transform="rotate(-15 570.9 261.1)" fill="#fff" stroke-width="1.1"/>
<ellipse cx="570.9" cy="261.1" rx="1.2" ry="1.7" transform="rotate(-15 570.9 261.1)" fill="none" stroke-width="1.1"/>
<ellipse cx="578.6" cy="256.8" rx="2.2" ry="3.2" transform="rotate(-15 578.6 256.8)" fill="#fff" stroke-width="1.6"/>
<ellipse cx="578.6" cy="256.8" rx="0.66" ry="0.96" transform="rotate(-15 578.6 256.8)" fill="none" stroke-width="0.8"/>
<g transform="translate(597.9 246.4) rotate(153.5)">
<path d="M3.2,-1.8 H17 M3.2,1.8 H17" />
<path d="M17,-1.8 Q18.5,0 17,1.8" />
<path d="M16.2,-1.8 L15.4,1.8 M14.6,-1.8 L13.8,1.8 M13.0,-1.8 L12.2,1.8 M11.4,-1.8 L10.6,1.8 M9.8,-1.8 L9.0,1.8 M8.2,-1.8 L7.4,1.8 " stroke-width="0.9"/>
<path d="M0,-4.9 L3.2,-4.41 L3.8000000000000003,0 L3.2,4.41 L0,4.9 Z" fill="#fff"/>
<path d="M-1.2,-4.9 L1.0,-4.9 L2.2,-2.205 L2.0,2.45 L0.4,4.9 L-1.8,4.9 L-3.0,2.205 L-2.8,-2.45 Z" fill="#fff"/>
</g>
<line x1="551.5" y1="259.6" x2="631.9" y2="211.7" stroke-width="1.2" />
<path d="M637,188.6 Q643.8,190.3 647.6,196 Q650.6,201.5 647.4,206.6 Q645,209.2 642.2,208.9 L640.8,208.8 L639,203 L636,201.6 Z" fill="#fff" stroke-width="1.2" />
<path d="M631.7,189.2 L637,188.6 Q640.6,192.5 639.4,197.6 Q638.4,201.4 634.9,201.9 L630,199.8 Q628.2,197 629,193.4 Q629.8,190.2 631.7,189.2 Z" fill="#fff" stroke-width="1.2" />
<ellipse cx="631.3" cy="194.6" rx="2.2" ry="5.3" transform="rotate(20 631.3 194.6)" fill="none" stroke-width="1.0"/>
<path d="M635.8,189 Q638.2,194.5 635,201.6" fill="none" stroke-width="1.0" />
<path d="M632,192 L636.2,191.4 M632.6,196.8 L636.6,196.6" fill="none" stroke-width="0.8" />
<path d="M633.6,205.2 L639.2,203.2 L640.9,208.8 L635.2,212 Q632.2,211.2 631.8,208.6 Q632,206 633.6,205.2 Z" fill="#fff" stroke-width="1.2" />
<ellipse cx="633.7" cy="208.6" rx="1.7" ry="3.2" transform="rotate(-20 633.7 208.6)" fill="none" stroke-width="1.0"/>
<path d="M635.6,204.6 Q637.4,207.5 636.9,211 M637.3,204 Q639.1,207 638.6,210 M638.7,203.5 Q640.3,206 640.1,209" fill="none" stroke-width="0.9" />
<path d="M592.5,170 L606.3,178.2" fill="none" stroke-width="5.6" stroke-linecap="round"/>
<path d="M592.5,170 L606.3,178.2" fill="none" stroke-width="3.5" stroke="#fff" stroke-linecap="round"/>
<path d="M610.6,180.6 L625.6,189.4" fill="none" stroke-width="5.6" stroke-linecap="round"/>
<path d="M610.6,180.6 L625.6,189.4" fill="none" stroke-width="3.5" stroke="#fff" stroke-linecap="round"/>
<ellipse cx="626.4" cy="189.8" rx="1.3" ry="2.3" transform="rotate(30 626.4 189.8)" fill="none" stroke-width="0.8"/>
<text x="614" y="155" font-size="14" >6</text>
<line x1="618.5" y1="157" x2="618.5" y2="181.6" stroke-width="1.2" />
<path d="M475,184.5 V157.6" fill="none" stroke-width="6.0" stroke-linecap="round"/>
<path d="M475,184.5 V157.6" fill="none" stroke-width="3.9" stroke="#fff" stroke-linecap="round"/>
<path d="M475,154.2 V113 Q475,103.5 483.5,107.8 L513.3,124.5" fill="none" stroke-width="6.0" stroke-linecap="round"/>
<path d="M475,154.2 V113 Q475,103.5 483.5,107.8 L513.3,124.5" fill="none" stroke-width="3.9" stroke="#fff" stroke-linecap="round"/>
<ellipse cx="513.8" cy="124.8" rx="1.4" ry="2.5" transform="rotate(30 513.8 124.8)" fill="none" stroke-width="0.8"/>
<text x="486.7" y="83.2" font-size="14" >5</text>
<line x1="490.5" y1="85.5" x2="490.5" y2="107.5" stroke-width="1.2" />
<g transform="translate(496.7 142.7) rotate(-29)" >
<path d="M3,-1.6 H15.5 Q16.8,0 15.5,1.6 H3" fill="#fff"/>
<path d="M8,-1.6 L7.2,1.6 M9.8,-1.6 L9,1.6 M11.6,-1.6 L10.8,1.6 M13.4,-1.6 L12.6,1.6 M15,-1.6 L14.4,1.6" stroke-width="0.9"/>
<path d="M1,-4.6 Q4.2,-3.5 3.6,0 Q4.2,3.5 1,4.6 Q-3.6,4.8 -3.8,0 Q-3.6,-4.8 1,-4.6 Z" fill="#fff"/>
<ellipse cx="-0.8" cy="0" rx="2.2" ry="3.6" stroke-width="0.9"/>
</g>
<line x1="514.4" y1="133.1" x2="526.3" y2="126.5" stroke-width="1.2" />
<g transform="translate(0 0)" >
<path d="M526.6,117.7 L529.8,115.9 L537.3,119.6 L537.3,136.6 Q536,141 529.5,141.2 Q523,139.8 522.4,134 Q522.6,129.5 526.6,126.1 Z" fill="#fff" stroke-width="1.2" />
<path d="M526.6,117.7 L534,121.9 L534,130.3 L526.6,126.1" fill="none" stroke-width="1.0" />
<path d="M534,121.9 L537.3,119.6" fill="none" stroke-width="0.9" />
<path d="M534,130.3 Q530.6,134 529.8,141" fill="none" stroke-width="1.0" />
<ellipse cx="530.6" cy="123.9" rx="1.5" ry="1.9" transform="rotate(-15 530.6 123.9)" fill="none" stroke-width="0.9"/>
</g>
<g transform="translate(51 30.3)" >
<path d="M526.6,117.7 L529.8,115.9 L537.3,119.6 L537.3,136.6 Q536,141 529.5,141.2 Q523,139.8 522.4,134 Q522.6,129.5 526.6,126.1 Z" fill="#fff" stroke-width="1.2" />
<path d="M526.6,117.7 L534,121.9 L534,130.3 L526.6,126.1" fill="none" stroke-width="1.0" />
<path d="M534,121.9 L537.3,119.6" fill="none" stroke-width="0.9" />
<path d="M534,130.3 Q530.6,134 529.8,141" fill="none" stroke-width="1.0" />
<ellipse cx="530.6" cy="123.9" rx="1.5" ry="1.9" transform="rotate(-15 530.6 123.9)" fill="none" stroke-width="0.9"/>
</g>
<line x1="541.1" y1="117.6" x2="603.1" y2="81" stroke-width="1.2" />
<path d="M543.3,138.3 L564,147.9 Q567.5,150 567.3,155 Q566.5,160.5 562,160.6 L541.1,149.6 Q538.5,146.5 539.5,142.5 Q540.8,138.5 543.3,138.3 Z" fill="#fff" stroke-width="1.2" />
<ellipse cx="542.4" cy="144.2" rx="2.6" ry="5.4" transform="rotate(-28 542.4 144.2)" fill="none" stroke-width="1.0"/>
<ellipse cx="563.9" cy="154.6" rx="3.3" ry="5.6" transform="rotate(-28 563.9 154.6)" fill="#fff" stroke-width="1.2"/>
<ellipse cx="563.9" cy="154.6" rx="1.5" ry="2.6" transform="rotate(-28 563.9 154.6)" fill="none" stroke-width="0.9"/>
<path d="M548.5,140.9 Q546,146 547.5,152.6 M557.5,145 Q555,150.5 556.3,157.4" fill="none" stroke-width="0.9" />
<path d="M553,130.5 V142.5 Q554.4,143.6 555.8,142.5 V130.5" fill="#fff" stroke-width="1.2" />
<path d="M553,135 H555.8 M553,137 H555.8 M553,139 H555.8 M553,141 H555.8" fill="none" stroke-width="0.7" />
<ellipse cx="554.4" cy="143.6" rx="2.4" ry="1.3" transform="rotate(0 554.4 143.6)" fill="#fff" stroke-width="0.9"/>
<ellipse cx="554.4" cy="123.5" rx="11.1" ry="7.3" transform="rotate(0 554.4 123.5)" fill="#fff" stroke-width="1.2"/>
<ellipse cx="554.4" cy="123.3" rx="6.6" ry="3.9" transform="rotate(0 554.4 123.3)" fill="none" stroke-width="1.2"/>
<rect x="551.6" y="120.8" width="5.6" height="4.6" fill="#fff" stroke-width="1"/>
<path d="M543.5,123.3 H547.8 M561,123.3 H565.3" fill="none" stroke-width="1.0" />
<g transform="translate(580.3 127) rotate(-28.5)">
<path d="M3.6,-2.1 H16.5 M3.6,2.1 H16.5" />
<path d="M16.5,-2.1 Q18.0,0 16.5,2.1" />
<path d="M15.7,-2.1 L14.9,2.1 M14.1,-2.1 L13.3,2.1 M12.5,-2.1 L11.7,2.1 M10.9,-2.1 L10.1,2.1 M9.3,-2.1 L8.5,2.1 M7.7,-2.1 L6.9,2.1 " stroke-width="0.9"/>
<path d="M0,-5.3 L3.6,-4.77 L4.2,0 L3.6,4.77 L0,5.3 Z" fill="#fff"/>
<path d="M-1.2,-5.3 L1.0,-5.3 L2.2,-2.385 L2.0,2.65 L0.4,5.3 L-1.8,5.3 L-3.0,2.385 L-2.8,-2.65 Z" fill="#fff"/>
</g>
<path d="M599.6,113.2 Q602.5,110.2 604.8,113.5 Q606,117 603.5,119 Q601,120.2 599.2,118.2 M601,115.6 L602.6,114.6" fill="none" stroke-width="1.5" />
<line x1="605.5" y1="112.7" x2="616.3" y2="106.5" stroke-width="1.2" />
<path d="M602.4,59.4 L606.2,57 L634,72.5 L636.4,76.4 L636.4,105.7 L624.8,113.5 L622.5,112.7 L603.1,89.5 Z" fill="#fff" stroke-width="1.2" />
<path d="M602.4,59.4 L605,60 L633,75.6 Q634.6,76.8 634.6,78.5 V106.8" fill="none" stroke-width="1.0" />
<ellipse cx="605.5" cy="79.8" rx="1.9" ry="2.4" transform="rotate(-15 605.5 79.8)" fill="none" stroke-width="1.2"/>
<ellipse cx="631" cy="93.7" rx="1.7" ry="2.3" transform="rotate(-15 631 93.7)" fill="none" stroke-width="1.2"/>
<ellipse cx="617.8" cy="105.3" rx="1.7" ry="2.2" transform="rotate(-15 617.8 105.3)" fill="none" stroke-width="1.2"/>
<line x1="619.8" y1="104" x2="629.2" y2="95.2" stroke-width="1.2" stroke-dasharray="3 2.2"/>
<line x1="590" y1="88.7" x2="603.4" y2="80.9" stroke-width="1.2" />
<line x1="628.3" y1="66.3" x2="641" y2="58.6" stroke-width="1.2" />
<ellipse cx="646" cy="55.5" rx="3.9" ry="4.5" transform="rotate(-15 646 55.5)" fill="#fff" stroke-width="1.2"/>
<ellipse cx="646" cy="55.5" rx="1.95" ry="2.25" transform="rotate(-15 646 55.5)" fill="none" stroke-width="1.2"/>
<ellipse cx="657.6" cy="49.4" rx="2.6" ry="3.8" transform="rotate(-15 657.6 49.4)" fill="#fff" stroke-width="1.9"/>
<path d="M665.7049999999999,38.4 L670.115,38.4 L673.055,41.584999999999994 L672.0749999999999,45.995 L668.4,48.199999999999996 L664.48,46.974999999999994 L663.5,42.32 Z" fill="#fff" stroke-width="1.3" />
<ellipse cx="668.1" cy="43.5" rx="2.6950000000000003" ry="3.2340000000000004" transform="rotate(-20 668.1 43.5)" fill="none" stroke-width="1.3"/>
<ellipse cx="668.1" cy="43.5" rx="1.47" ry="1.9600000000000002" transform="rotate(-20 668.1 43.5)" fill="none" stroke-width="0.8"/>
<text x="130.2" y="167.2" font-size="14" >2</text>
<line x1="125.1" y1="165.7" x2="98" y2="178.2" stroke-width="1.2" />
<path d="M129.2,204.6 L151,220.3 Q162.5,229 163.3,246 V272.3" fill="none" stroke-width="7.1" stroke-linecap="round"/>
<path d="M129.2,204.6 L151,220.3 Q162.5,229 163.3,246 V272.3" fill="none" stroke-width="5.0" stroke="#fff" stroke-linecap="round"/>
<ellipse cx="128.9" cy="204.4" rx="1.6" ry="2.9" transform="rotate(35 128.9 204.4)" fill="none" stroke-width="0.8"/>
<path d="M159.7,257.6 Q163.3,259.6 167.1,257.6 V263.4 Q163.3,265.6 159.7,263.4 Z" fill="#fff"/>
<path d="M167.1,258.3 L173.2,260.7 L173.2,266 L167.1,263.6 Z" fill="#fff" stroke-width="1.2" />
<ellipse cx="170.4" cy="262.3" rx="1.1" ry="1.4" transform="rotate(0 170.4 262.3)" fill="none" stroke-width="0.9"/>
<text x="116.2" y="245.6" font-size="14" >3</text>
<line x1="129.7" y1="235.6" x2="151.2" y2="223.5" stroke-width="1.2" />
<text x="90.2" y="244.6" font-size="14" >A</text>
<path d="M97.9,182.9 L108.2,187.8 Q109.6,191.5 106.2,194.9 L97.9,191.5 Z" fill="#fff" stroke-width="1.2" />
<ellipse cx="107.3" cy="191.3" rx="1.6" ry="3.5" transform="rotate(-14 107.3 191.3)" fill="#fff" stroke-width="0.9"/>
<ellipse cx="107.3" cy="191.3" rx="0.7" ry="1.9" transform="rotate(-14 107.3 191.3)" fill="none" stroke-width="0.8"/>
<path d="M88,178.4 H98.9 V192 Q93.4,195 88,192 Z" fill="#fff"/>
<path d="M91.3,179 V193.2 M95.8,179 V193.2" fill="none" stroke-width="0.9" />
<path d="M89.3,173 Q93.7,169.5 98.2,173 V177.6 Q93.7,180 89.3,177.6 Z" fill="#fff"/>
<ellipse cx="93.7" cy="172.9" rx="4.4" ry="2.0" transform="rotate(0 93.7 172.9)" fill="#fff" stroke-width="1.2"/>
<path d="M92,174.6 V178.5 M96.3,174.4 V178.2" fill="none" stroke-width="0.8" />
<path d="M90.2,193.2 V203.2 Q93.2,205 96.2,203.2 V193.2" fill="#fff"/>
<path d="M90.2,195.5 Q93.2,197 96.2,195.5 M90.2,197.7 Q93.2,199.2 96.2,197.7 M90.2,199.9 Q93.2,201.4 96.2,199.9 M90.2,202 Q93.2,203.5 96.2,202" fill="none" stroke-width="1.0" />
<path d="M117.5,193.5 Q113.5,196 114.5,199.8 Q116.5,202.8 120.3,201 Q123.5,198.5 122.3,195 M117.5,193.5 L121.5,191 L124,192.5 L121,195.5 L119,194.8" fill="none" stroke-width="1.3" />
<ellipse cx="118.6" cy="197.6" rx="2.0" ry="2.4" transform="rotate(-20 118.6 197.6)" fill="none" stroke-width="1.0"/>
</svg>
<div class="bar"><i></i><b></b></div>
</body></html>
